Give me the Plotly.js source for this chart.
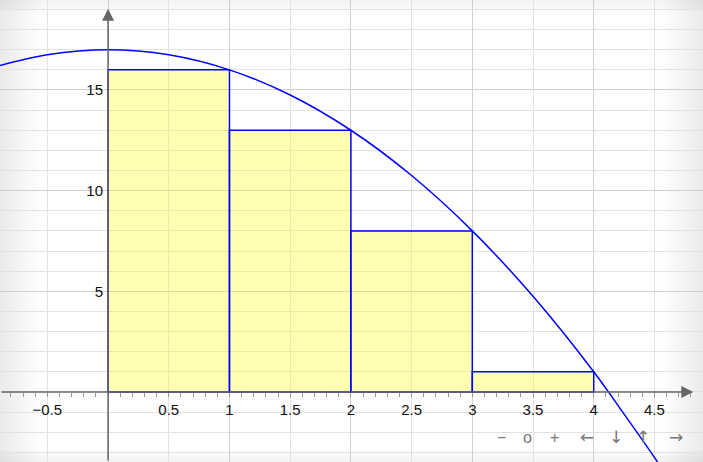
<!DOCTYPE html>
<html>
<head>
<meta charset="utf-8">
<script src="https://cdn.plot.ly/plotly-3.0.1.min.js"></script>
<style>html,body{margin:0;padding:0;background:#fff;}#chart{width:703px;height:462px;}</style>
</head>
<body>
<div id="chart"></div>
<script>
// ---- data ----
const barLeft = [0, 1, 2, 3];
const barValues = [16, 13, 8, 1];
const barWidth = [1, 1, 1, 1];
const curveX = [-0.9, -0.5, 0, 0.5, 1, 1.5, 2, 2.5, 3, 3.5, 4, 4.25, 4.5, 4.6];
const curveY = [16.2, 16.75, 17, 16.75, 16, 14.75, 13, 10.75, 8, 4.75, 1, -1.1, -3.25, -4.2];
const xTickVals = [-0.5, 0.5, 1, 1.5, 2, 2.5, 3, 3.5, 4, 4.5];
const xTickText = ["−0.5", "0.5", "1", "1.5", "2", "2.5", "3", "3.5", "4", "4.5"];
const yTickVals = [5, 10, 15];
const yTickText = ["5", "10", "15"];
const navLabels = ["−", "o", "+", "←", "↓", "↑", "→"];
const navPx = [501, 527, 554, 587, 616, 643, 676];

const xRange = [-0.89, 4.90];
const yRange = [-3.48, 19.47];
const W = 703, H = 462;
const xAxisPos = (0 - yRange[0]) / (yRange[1] - yRange[0]);
const yAxisPos = (0 - xRange[0]) / (xRange[1] - xRange[0]);

const FAM = 'Arial, "Liberation Sans", sans-serif';

const bars = {
  type: 'bar',
  x: barLeft, y: barValues, width: barWidth,
  offset: 0, xaxis: 'x2', yaxis: 'y',
  marker: {color: 'rgba(255,255,0,0.3)', line: {color: '#0000ff', width: 1.5}},
  hoverinfo: 'skip', showlegend: false
};
const curve = {
  type: 'scatter', mode: 'lines',
  x: curveX, y: curveY, xaxis: 'x2', yaxis: 'y',
  line: {color: '#0000ff', width: 1.5, shape: 'spline', smoothing: 1},
  hoverinfo: 'skip', showlegend: false, cliponaxis: true
};

// vignette shapes
const shapes = [];
for (let i = 1; i <= 10; i++) {
  const d = i * 4;
  shapes.push({type:'rect', xref:'paper', yref:'paper', x0:0, x1:d/W, y0:0, y1:1, fillcolor:'#777', opacity:0.012, line:{width:0}, layer:'below'});
  shapes.push({type:'rect', xref:'paper', yref:'paper', x0:1-d/W, x1:1, y0:0, y1:1, fillcolor:'#777', opacity:0.012, line:{width:0}, layer:'below'});
}
for (let i = 1; i <= 4; i++) {
  const d = i * 3;
  shapes.push({type:'rect', xref:'paper', yref:'paper', x0:0, x1:1, y0:1-d/H, y1:1, fillcolor:'#777', opacity:0.02, line:{width:0}, layer:'below'});
  shapes.push({type:'rect', xref:'paper', yref:'paper', x0:0, x1:1, y0:0, y1:d/H, fillcolor:'#777', opacity:0.02, line:{width:0}, layer:'below'});
}

const annotations = [
  {xref:'x', yref:'y', axref:'x', ayref:'y', x: 4.82, y: 0, ax: xRange[0], ay: 0, text:'', showarrow:true,
   arrowhead:2, arrowsize:1.6, arrowwidth:1.5, arrowcolor:'#666', standoff:0, startstandoff:0},
  {xref:'x', yref:'y', axref:'x', ayref:'y', x: 0, y: 19.03, ax: 0, ay: yRange[0], text:'', showarrow:true,
   arrowhead:2, arrowsize:1.6, arrowwidth:1.5, arrowcolor:'#666', standoff:0, startstandoff:0}
];
navLabels.forEach((t, i) => {
  const isArrow = i >= 3;
  annotations.push({xref:'paper', yref:'paper', x: navPx[i]/W, y: 1 - 437/H, text: t, showarrow:false,
    xanchor:'center', yanchor:'middle',
    font:{family: isArrow ? '"DejaVu Sans", sans-serif' : FAM, size: isArrow ? 17 : 16, color:'#777'}});
});

const layout = {
  width: W, height: H,
  margin: {l:0, r:0, t:0, b:0, pad:0},
  paper_bgcolor: '#ffffff', plot_bgcolor: 'rgba(0,0,0,0)',
  bargap: 0,
  showlegend: false,
  font: {family: FAM, size: 15, color: '#111'},
  xaxis: {
    range: xRange, anchor: 'free', position: xAxisPos, side: 'bottom',
    tickvals: xTickVals, ticktext: xTickText,
    ticks: 'outside', ticklen: 4, tickwidth: 1, tickcolor: '#999',
    showline: false, zeroline: false,
    showgrid: true, gridcolor: '#e2e2e2', gridwidth: 1,
    minor: {tick0: 0, dtick: 0.1, ticks: 'outside', ticklen: 4, tickwidth: 1, tickcolor: '#999', showgrid: false},
    tickfont: {family: FAM, size: 15, color: '#111'}, ticklabelstandoff: 0, fixedrange: true
  },
  xaxis2: {
    range: xRange, overlaying: 'x', anchor: 'y', dtick: 1, tick0: 0,
    showticklabels: false, ticks: '', showline: false, zeroline: false,
    showgrid: true, gridcolor: '#d0d0d0', gridwidth: 1, fixedrange: true
  },
  yaxis: {
    range: yRange, anchor: 'free', position: yAxisPos, side: 'left',
    tickvals: yTickVals, ticktext: yTickText,
    ticks: '', showline: false, zeroline: false,
    showgrid: true, gridcolor: '#d0d0d0', gridwidth: 1,
    minor: {tick0: 0, dtick: 1, showgrid: true, gridcolor: '#e2e2e2', gridwidth: 1, ticks: ''},
    tickfont: {family: FAM, size: 15, color: '#111'}, ticklabelstandoff: 5, fixedrange: true
  },
  shapes: shapes,
  annotations: annotations
};

Plotly.newPlot('chart', [bars, curve], layout, {staticPlot: true, displayModeBar: false});
</script>
</body>
</html>
